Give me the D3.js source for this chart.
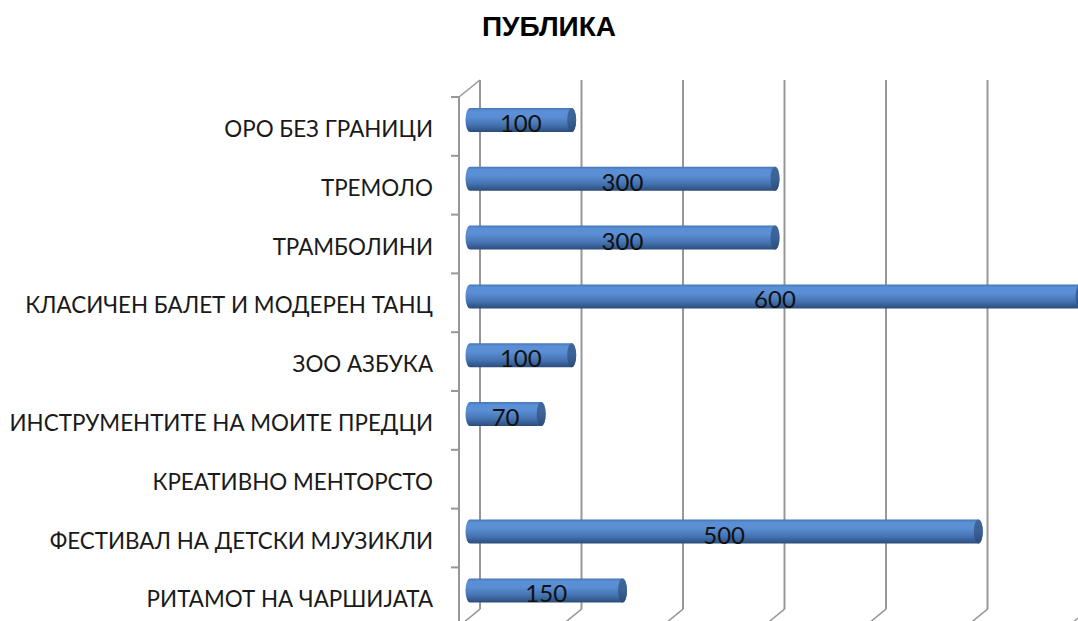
<!DOCTYPE html>
<html>
<head>
<meta charset="utf-8">
<script src="https://cdn.jsdelivr.net/npm/d3@7"></script>
<style>
  body { margin: 0; background: #fff; }
  svg { display: block; }
</style>
</head>
<body>
<div id="chart"></div>
<script>
// ПУБЛИКА - 3d cylinder bar chart, one series
var categories = [
  "ОРО БЕЗ ГРАНИЦИ",
  "ТРЕМОЛО",
  "ТРАМБОЛИНИ",
  "КЛАСИЧЕН БАЛЕТ И МОДЕРЕН ТАНЦ",
  "ЗОО АЗБУКА",
  "ИНСТРУМЕНТИТЕ НА МОИТЕ ПРЕДЦИ",
  "КРЕАТИВНО МЕНТОРСТО",
  "ФЕСТИВАЛ НА ДЕТСКИ МЈУЗИКЛИ",
  "РИТАМОТ НА ЧАРШИЈАТА"
];
var values = [100, 300, 300, 600, 100, 70, null, 500, 150];
var gridTicks = [0, 100, 200, 300, 400, 500, 600];
var title = "ПУБЛИКА";

var width = 1078, height = 621;
var depthX = -21, depthY = 17;      // back wall -> front edge offset
var barH = 24, capRx = 4.5;

var svg = d3.select("#chart").append("svg")
    .attr("width", width)
    .attr("height", height);

// scales: back wall grid and bars (bars sit mid-depth)
var xGrid = d3.scaleLinear().domain([0, 600]).range([480, 1089]);
var xBar = d3.scaleLinear().domain([0, 600]).range([470, 1080]);
var y = d3.scaleBand().domain(categories).range([97, 97 + 9 * 58.8]);

var defs = svg.append("defs");
var grad = defs.append("linearGradient")
    .attr("id", "cyl").attr("x1", 0).attr("y1", 0).attr("x2", 0).attr("y2", 1);
[[0, "#4676b3"], [0.12, "#5a8fd6"], [0.35, "#5b8fd5"], [0.7, "#4674b2"], [0.9, "#335a8f"], [1, "#2b4c7a"]]
  .forEach(function(s) { grad.append("stop").attr("offset", s[0]).attr("stop-color", s[1]); });
var capGrad = defs.append("linearGradient")
    .attr("id", "cap").attr("x1", 0).attr("y1", 0).attr("x2", 0).attr("y2", 1);
[[0, "#3f679c"], [0.5, "#3a6296"], [1, "#2c4c78"]]
  .forEach(function(s) { capGrad.append("stop").attr("offset", s[0]).attr("stop-color", s[1]); });

// title
svg.append("text")
    .attr("x", 549).attr("y", 36)
    .attr("text-anchor", "middle")
    .style("font-family", "'Liberation Sans', Arial, sans-serif")
    .style("font-weight", "bold")
    .style("font-size", "28px")
    .text(title);

var gridColor = "#979797";
var gridTop = 80, gridBottom = y.range()[1] - depthY;

// back wall gridlines + floor diagonals
var grid = svg.append("g");
gridTicks.forEach(function(t) {
  grid.append("line")
      .attr("x1", xGrid(t)).attr("x2", xGrid(t))
      .attr("y1", gridTop).attr("y2", gridBottom)
      .attr("stroke", gridColor).attr("stroke-width", 2);
  grid.append("line")
      .attr("x1", xGrid(t)).attr("x2", xGrid(t) + depthX)
      .attr("y1", gridBottom).attr("y2", gridBottom + depthY)
      .attr("stroke", gridColor).attr("stroke-width", 1.5);
});

// front category axis
var axisX = xGrid(0) + depthX;
grid.append("line")
    .attr("x1", axisX).attr("x2", axisX)
    .attr("y1", y.range()[0]).attr("y2", y.range()[1])
    .attr("stroke", gridColor).attr("stroke-width", 2);
grid.append("line")
    .attr("x1", axisX).attr("x2", xGrid(0))
    .attr("y1", y.range()[0]).attr("y2", gridTop)
    .attr("stroke", gridColor).attr("stroke-width", 1.5);
categories.forEach(function(c) {
  grid.append("line")
      .attr("x1", axisX - 8).attr("x2", axisX)
      .attr("y1", y(c)).attr("y2", y(c))
      .attr("stroke", gridColor).attr("stroke-width", 2);
});

// category labels
svg.append("g").selectAll("text")
    .data(categories)
  .enter().append("text")
    .attr("x", 433)
    .attr("y", function(d) { return y(d) + 40; })
    .attr("text-anchor", "end")
    .style("font-family", "Lato, 'Open Sans', sans-serif")
    .style("font-size", "22.4px")
    .attr("fill", "#1a1a1a")
    .text(function(d) { return d; });

// bars
var data = categories.map(function(c, i) { return { cat: c, val: values[i] }; })
    .filter(function(d) { return d.val != null; });

var bars = svg.append("g").selectAll("g")
    .data(data)
  .enter().append("g");

function bodyPath(d) {
  var x0 = xBar(0), x1 = xBar(d.val);
  var yt = y(d.cat) + 11, yb = yt + barH, ry = barH / 2;
  return "M" + x0 + "," + yt + " L" + x1 + "," + yt +
    " A" + capRx + "," + ry + " 0 0 1 " + x1 + "," + yb +
    " L" + x0 + "," + yb +
    " A" + capRx + "," + ry + " 0 0 1 " + x0 + "," + yt + "Z";
}

bars.append("path")
    .attr("d", bodyPath)
    .attr("fill", "url(#cyl)");

bars.append("ellipse")
    .attr("cx", function(d) { return xBar(d.val); })
    .attr("cy", function(d) { return y(d.cat) + 11 + barH / 2; })
    .attr("rx", capRx)
    .attr("ry", barH / 2)
    .attr("fill", "url(#cap)");

// value labels
bars.append("text")
    .attr("x", function(d) { return (xBar(0) + xBar(d.val)) / 2; })
    .attr("y", function(d) { return y(d.cat) + 35; })
    .attr("text-anchor", "middle")
    .style("font-family", "Lato, 'Open Sans', sans-serif")
    .style("font-size", "24px")
    .attr("fill", "#111")
    .text(function(d) { return d.val; });
</script>
</body>
</html>
